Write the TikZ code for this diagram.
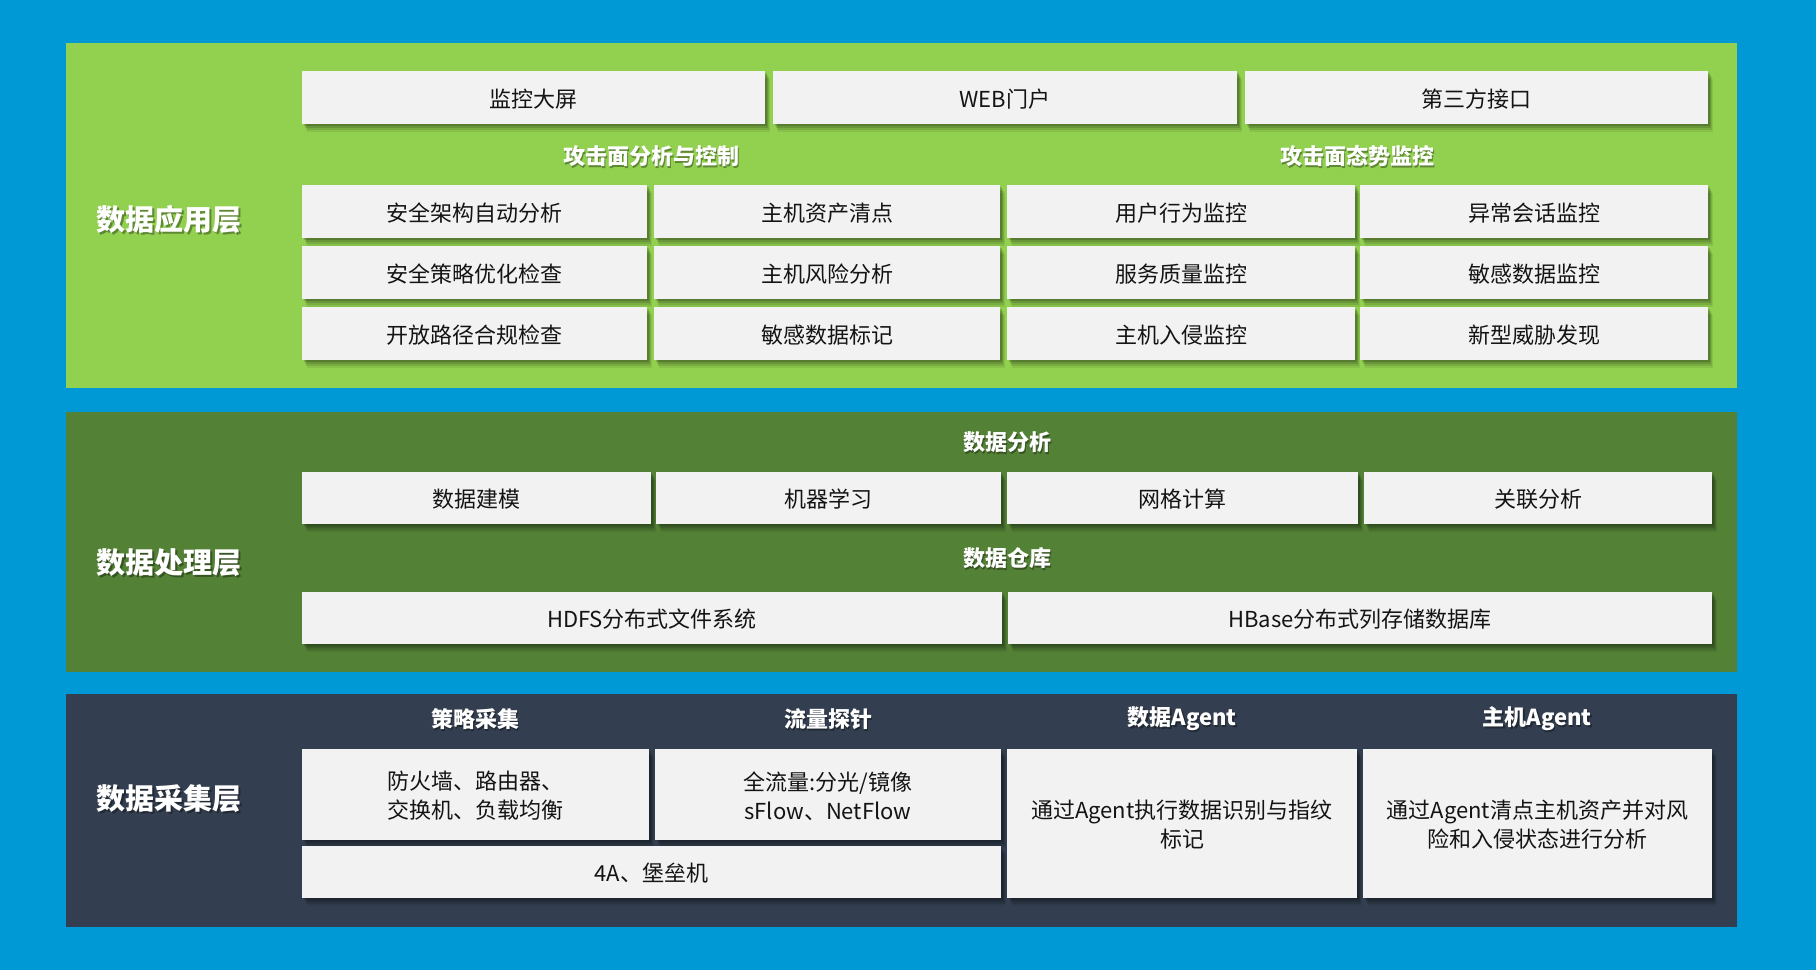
\documentclass[tikz,border=0pt]{standalone}
\usepackage{fontspec}
\setmainfont{Noto Sans CJK SC}
\usetikzlibrary{shadows}
\definecolor{bgblue}{RGB}{0,153,213}
\definecolor{appgreen}{RGB}{146,208,80}
\definecolor{procgreen}{RGB}{83,129,53}
\definecolor{collnavy}{RGB}{51,63,80}
\definecolor{cellgray}{RGB}{242,242,242}
\definecolor{txt}{RGB}{20,20,20}
\tikzset{
  panel/.style={rectangle, inner sep=0pt, draw=none},
  cell/.style={rectangle, fill=cellgray, inner sep=0pt,
    drop shadow={shadow xshift=2pt, shadow yshift=-2pt, opacity=0.16, fill=black},
    drop shadow={shadow xshift=3pt, shadow yshift=-4pt, opacity=0.13, fill=black},
    drop shadow={shadow xshift=4pt, shadow yshift=-6pt, opacity=0.10, fill=black},
    drop shadow={shadow xshift=5pt, shadow yshift=-8pt, opacity=0.07, fill=black}},
  celltext/.style={inner sep=0pt, text=txt, align=center, font=\fontsize{22}{29}\selectfont},
  hdr/.style={inner sep=0pt, text=white, font=\bfseries\fontsize{22}{26}\selectfont},
  hdrsh/.style={inner sep=0pt, text=black, text opacity=0.35, font=\bfseries\fontsize{22}{26}\selectfont},
  lyr/.style={inner sep=0pt, text=white, font=\bfseries\fontsize{29}{34}\selectfont},
  lyrsh/.style={inner sep=0pt, text=black, text opacity=0.35, font=\bfseries\fontsize{29}{34}\selectfont}
}
\newcommand{\bx}[6]{\node[cell, minimum width={(#4-#2)*1pt}, minimum height={(#5-#3)*1pt}] (#1) at ({(#2+#4)/2},{(#3+#5)/2}) {};
  \node[celltext] (#1t) at ({(#2+#4)/2},{(#3+#5)/2+1.5}) {#6};}
\newcommand{\pnl}[6]{\node[panel, fill=#6, minimum width={(#4-#2)*1pt}, minimum height={(#5-#3)*1pt}] (#1) at ({(#2+#4)/2},{(#3+#5)/2}) {};}
\newcommand{\hd}[4]{\node[hdrsh] (#1s) at ({#2+1.5},{#3+1.8}) {#4};\node[hdr] (#1) at (#2,#3) {#4};}
\newcommand{\ly}[4]{\node[lyrsh] (#1s) at ({#2+1.8},{#3+2}) {#4};\node[lyr] (#1) at (#2,#3) {#4};}
\begin{document}
\begin{tikzpicture}[x=1pt,y=-1pt]
\fill[bgblue] (0,0) rectangle (1816,970);
\useasboundingbox (0,0) rectangle (1816,970);
% panels
\pnl{app}{66}{43}{1737}{388}{appgreen}
\pnl{proc}{66}{412}{1737}{672}{procgreen}
\pnl{coll}{66}{694}{1737}{927}{collnavy}
% application layer
\ly{lapp}{169}{219}{数据应用层}
\bx{a01}{302}{71}{765}{124}{监控大屏}
\bx{a02}{773}{71}{1237}{124}{WEB门户}
\bx{a03}{1245}{71}{1708}{124}{第三方接口}
\hd{h1}{651}{156}{攻击面分析与控制}
\hd{h2}{1357}{156}{攻击面态势监控}
\bx{a11}{302}{185}{647}{238}{安全架构自动分析}
\bx{a12}{654}{185}{1000}{238}{主机资产清点}
\bx{a13}{1007}{185}{1355}{238}{用户行为监控}
\bx{a14}{1360}{185}{1708}{238}{异常会话监控}
\bx{a21}{302}{246}{647}{299}{安全策略优化检查}
\bx{a22}{654}{246}{1000}{299}{主机风险分析}
\bx{a23}{1007}{246}{1355}{299}{服务质量监控}
\bx{a24}{1360}{246}{1708}{299}{敏感数据监控}
\bx{a31}{302}{307}{647}{360}{开放路径合规检查}
\bx{a32}{654}{307}{1000}{360}{敏感数据标记}
\bx{a33}{1007}{307}{1355}{360}{主机入侵监控}
\bx{a34}{1360}{307}{1708}{360}{新型威胁发现}
% processing layer
\ly{lproc}{169}{563}{数据处理层}
\hd{h3}{1007}{442}{数据分析}
\bx{p1}{302}{472}{651}{524}{数据建模}
\bx{p2}{656}{472}{1001}{524}{机器学习}
\bx{p3}{1007}{472}{1358}{524}{网格计算}
\bx{p4}{1364}{472}{1712}{524}{关联分析}
\hd{h4}{1007}{558}{数据仓库}
\bx{p5}{302}{592}{1002}{644}{HDFS分布式文件系统}
\bx{p6}{1008}{592}{1712}{644}{HBase分布式列存储数据库}
% collection layer
\ly{lcoll}{169}{799}{数据采集层}
\hd{h5}{475}{719}{策略采集}
\hd{h6}{828}{719}{流量探针}
\hd{h7}{1182}{719}{数据Agent}
\hd{h8}{1537}{719}{主机Agent}
\bx{c1}{302}{749}{649}{840}{防火墙、路由器、\\交换机、负载均衡}
\bx{c2}{655}{749}{1001}{840}{全流量:分光/镜像\\sFlow、NetFlow}
\bx{c3}{302}{846}{1001}{898}{4A、堡垒机}
\bx{c4}{1007}{749}{1357}{898}{通过Agent执行数据识别与指纹\\标记}
\bx{c5}{1363}{749}{1712}{898}{通过Agent清点主机资产并对风\\险和入侵状态进行分析}
\end{tikzpicture}
\end{document}
